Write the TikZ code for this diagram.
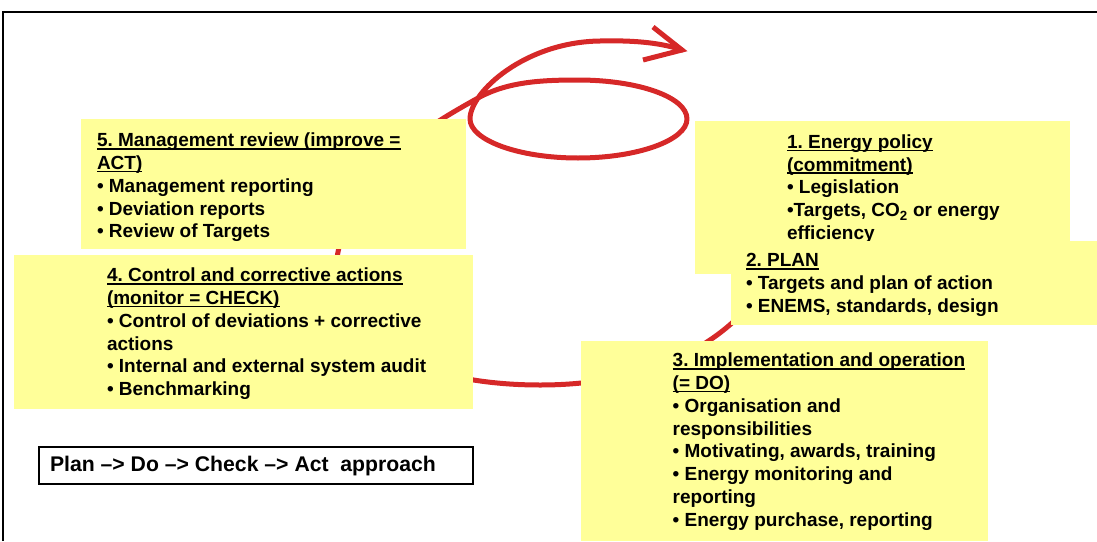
\documentclass[tikz,border=0pt]{standalone}
\usepackage{fontspec}
\setmainfont{Liberation Sans}
\frenchspacing
\definecolor{boxyellow}{RGB}{255,255,153}
\definecolor{loopred}{RGB}{214,40,40}
\newsavebox\ulbox
\newcommand\myul[1]{\sbox\ulbox{#1}\rlap{\rule[-2.8pt]{\wd\ulbox}{1.5pt}}\usebox\ulbox}
\newcommand\fst{\rule{0pt}{16pt}}
\begin{document}
\begin{tikzpicture}[x=1pt,y=-1pt,
  ybox/.style={fill=boxyellow, draw=none, anchor=north west, inner sep=0pt, outer sep=0pt},
  txt/.style={anchor=north west, inner sep=0pt, outer sep=0pt, align=left, font=\fontsize{19}{22.8}\selectfont\bfseries},
  redline/.style={draw=loopred, line width=5pt, line cap=round, line join=round}]
\useasboundingbox (0,0) rectangle (1097,541);
% frame
\draw[line width=2pt] (3,541) -- (3,12) -- (1097,12);
% red spiral
\draw[redline] (790,215) .. controls (780,300) and (700,385) .. (540,385)
  .. controls (420,385) and (320,340) .. (338,252)
  .. controls (356,165) and (432,124) .. (478,98)
  .. controls (507,82) and (540,80) .. (578,80)
  .. controls (638,80) and (687,97) .. (687,119)
  .. controls (687,140) and (638,158) .. (578,158)
  .. controls (518,158) and (470,140) .. (470,119)
  .. controls (470,92) and (525,42) .. (600,41)
  .. controls (640,40) and (665,44) .. (682,50);
\draw[redline, line join=miter, line cap=butt] (653,27) -- (682,50) -- (643,60);
% boxes
\node[ybox, minimum width=385pt, minimum height=130pt] (b5) at (81,119) {};
\node[ybox, minimum width=459pt, minimum height=154pt] (b4) at (14,255) {};
\node[ybox, minimum width=375pt, minimum height=153pt] (b1) at (695,121) {};
\node[txt] (t1) at (787,132.3) {\fst\myul{1. Energy policy}\\\myul{(commitment)}\\• Legislation\\•Targets, CO\textsubscript{2} or energy\\efficiency};
\node[ybox, minimum width=366pt, minimum height=84pt] (b2) at (731,241) {};
\node[ybox, minimum width=407pt, minimum height=200pt] (b3) at (581,341) {};
% texts
\node[txt] (t5) at (97,130.7) {\fst\myul{5. Management review (improve =}\\\myul{ACT)}\\• Management reporting\\• Deviation reports\\• Review of Targets};
\node[txt] (t4) at (107,265.7) {\fst\myul{4. Control and corrective actions}\\\myul{(monitor = CHECK)}\\• Control of deviations + corrective\\actions\\• Internal and external system audit\\• Benchmarking};
\node[txt] (t2) at (746,250.7) {\fst\myul{2. PLAN}\\• Targets and plan of action\\• ENEMS, standards, design};
\node[txt] (t3) at (672.7,350.7) {\fst\myul{3. Implementation and operation}\\\myul{(= DO)}\\• Organisation and\\responsibilities\\• Motivating, awards, training\\• Energy monitoring and\\reporting\\• Energy purchase, reporting};
% approach box
\node[draw, line width=1.5pt, anchor=north west, inner sep=0pt, minimum width=434pt, minimum height=37pt] (pb) at (38,446) {};
\node[txt, font=\fontsize{21.2}{25}\selectfont\bfseries] (pt) at (50,454.2) {\rule{0pt}{17.5pt}Plan \textendash> Do \textendash> Check \textendash> Act\ \ approach};
\end{tikzpicture}
\end{document}
